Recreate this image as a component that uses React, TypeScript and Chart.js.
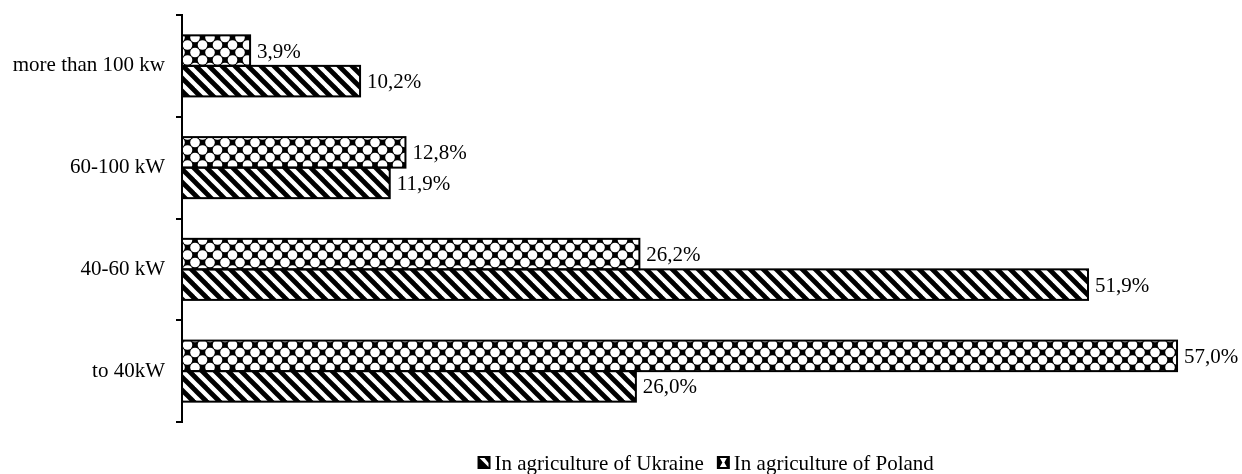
import React, { useEffect, useRef } from "react";
import { Chart, registerables } from "chart.js";

Chart.register(...registerables);

const categories = ["more than 100 kw", "60-100 kW", "40-60 kW", "to 40kW"];
const polandValues = [3.9, 12.8, 26.2, 57.0];
const ukraineValues = [10.2, 11.9, 51.9, 26.0];
const seriesNames = ["In agriculture of Poland", "In agriculture of Ukraine"];

const FONT = "'Liberation Serif', 'Times New Roman', serif";

function makeDiagPattern(ctx: CanvasRenderingContext2D) {
  const s = 13;
  const c = document.createElement("canvas");
  c.width = s;
  c.height = s;
  const g = c.getContext("2d")!;
  g.fillStyle = "#fff";
  g.fillRect(0, 0, s, s);
  g.strokeStyle = "#000";
  g.lineWidth = 4.8;
  for (let k = -1; k <= 1; k++) {
    g.beginPath();
    g.moveTo(k * s - 3, -3);
    g.lineTo(k * s + s + 3, s + 3);
    g.stroke();
  }
  return ctx.createPattern(c, "repeat")!;
}

function makeDiamondPattern(ctx: CanvasRenderingContext2D) {
  const s = 15;
  const c = document.createElement("canvas");
  c.width = s;
  c.height = s;
  const g = c.getContext("2d")!;
  g.fillStyle = "#000";
  g.fillRect(0, 0, s, s);
  g.fillStyle = "#fff";
  const pts = [
    [s / 2, 0],
    [0, s / 2],
    [s, s / 2],
    [s / 2, s],
  ];
  for (const [x, y] of pts) {
    g.beginPath();
    g.arc(x, y, 4.8, 0, Math.PI * 2);
    g.fill();
  }
  return ctx.createPattern(c, "repeat")!;
}

const fmt = (v: number) => v.toFixed(1).replace(".", ",") + "%";

function drawIcon(ctx: CanvasRenderingContext2D, kind: string, x: number, y: number, s: number) {
  ctx.fillStyle = "#000";
  ctx.fillRect(x, y, s, s);
  ctx.fillStyle = "#fff";
  ctx.beginPath();
  if (kind === "diag") {
    ctx.moveTo(x + 2, y + 2);
    ctx.lineTo(x + 7, y + 2);
    ctx.lineTo(x + 11, y + 7);
    ctx.lineTo(x + 11, y + 11);
    ctx.closePath();
  } else {
    ctx.moveTo(x + 3, y + 2);
    ctx.lineTo(x + 10, y + 2);
    ctx.lineTo(x + 7.5, y + 6.5);
    ctx.lineTo(x + 10, y + 11);
    ctx.lineTo(x + 3, y + 11);
    ctx.lineTo(x + 5.5, y + 6.5);
    ctx.closePath();
  }
  ctx.fill();
}

const barDecorPlugin = {
  id: "barDecor",
  afterDatasetsDraw(chart: any) {
    const ctx = chart.ctx as CanvasRenderingContext2D;
    ctx.save();
    chart.data.datasets.forEach((ds: any, di: number) => {
      const meta = chart.getDatasetMeta(di);
      meta.data.forEach((bar: any, i: number) => {
        const { x, y, base, height } = bar.getProps(["x", "y", "base", "height"], true);
        ctx.strokeStyle = "#000";
        ctx.lineWidth = 2;
        ctx.strokeRect(base, y - height / 2, x - base, height);
        ctx.fillStyle = "#000";
        ctx.font = `21px ${FONT}`;
        ctx.textAlign = "left";
        ctx.textBaseline = "alphabetic";
        ctx.fillText(fmt(ds.data[i]), x + 7, y + 7);
      });
    });
    ctx.restore();
  },
  afterDraw(chart: any) {
    const ctx = chart.ctx as CanvasRenderingContext2D;
    const area = chart.chartArea;
    ctx.save();
    ctx.font = `21px ${FONT}`;
    const order = [1, 0];
    const kinds = ["diamond", "diag"];
    const box = 13;
    const gapIconText = 4;
    const gapItems = 13;
    let total = 0;
    order.forEach((di, k) => {
      total += box + gapIconText + ctx.measureText(chart.data.datasets[di].label).width;
      if (k < order.length - 1) total += gapItems;
    });
    let x = (area.left + area.right) / 2 - total / 2;
    const iconTop = 456;
    order.forEach((di) => {
      const ds = chart.data.datasets[di];
      drawIcon(ctx, kinds[di], x, iconTop, box);
      x += box + gapIconText;
      ctx.fillStyle = "#000";
      ctx.textAlign = "left";
      ctx.textBaseline = "alphabetic";
      ctx.fillText(ds.label, x, 470);
      x += ctx.measureText(ds.label).width + gapItems;
    });
    ctx.restore();
  },
};

export default function App() {
  const ref = useRef<HTMLCanvasElement | null>(null);
  useEffect(() => {
    const canvas = ref.current!;
    const ctx = canvas.getContext("2d")!;
    const diamond = makeDiamondPattern(ctx);
    const diag = makeDiagPattern(ctx);
    const chart = new Chart(canvas, {
      type: "bar",
      data: {
        labels: categories,
        datasets: [
          {
            label: seriesNames[0],
            data: polandValues,
            backgroundColor: diamond as any,
            borderWidth: 0,
          },
          {
            label: seriesNames[1],
            data: ukraineValues,
            backgroundColor: diag as any,
            borderWidth: 0,
          },
        ],
      },
      options: {
        indexAxis: "y",
        animation: false,
        responsive: false,
        devicePixelRatio: 1,
        layout: { padding: { left: 0, top: 15, bottom: 52, right: 12.6 } },
        datasets: { bar: { categoryPercentage: 0.6, barPercentage: 1 } },
        plugins: {
          legend: { display: false },
          tooltip: { enabled: false },
        },
        scales: {
          x: { display: false, min: 0, max: 60 },
          y: {
            grid: {
              display: true,
              drawOnChartArea: false,
              drawTicks: true,
              tickLength: 6,
              color: "#000",
              lineWidth: 2,
            },
            border: { display: true, color: "#000", width: 2 },
            ticks: {
              color: "#000",
              padding: 11,
              font: { family: FONT, size: 21 },
            },
            afterFit: (scale: any) => {
              scale.width = 182;
              scale.paddingTop = 0;
              scale.paddingBottom = 0;
            },
          },
        },
      },
      plugins: [barDecorPlugin],
    });
    return () => chart.destroy();
  }, []);
  return (
    <div style={{ position: "fixed", left: 0, top: 0, width: 1242, height: 474, background: "#fff" }}>
      <canvas ref={ref} width={1242} height={474} style={{ display: "block" }} />
    </div>
  );
}
